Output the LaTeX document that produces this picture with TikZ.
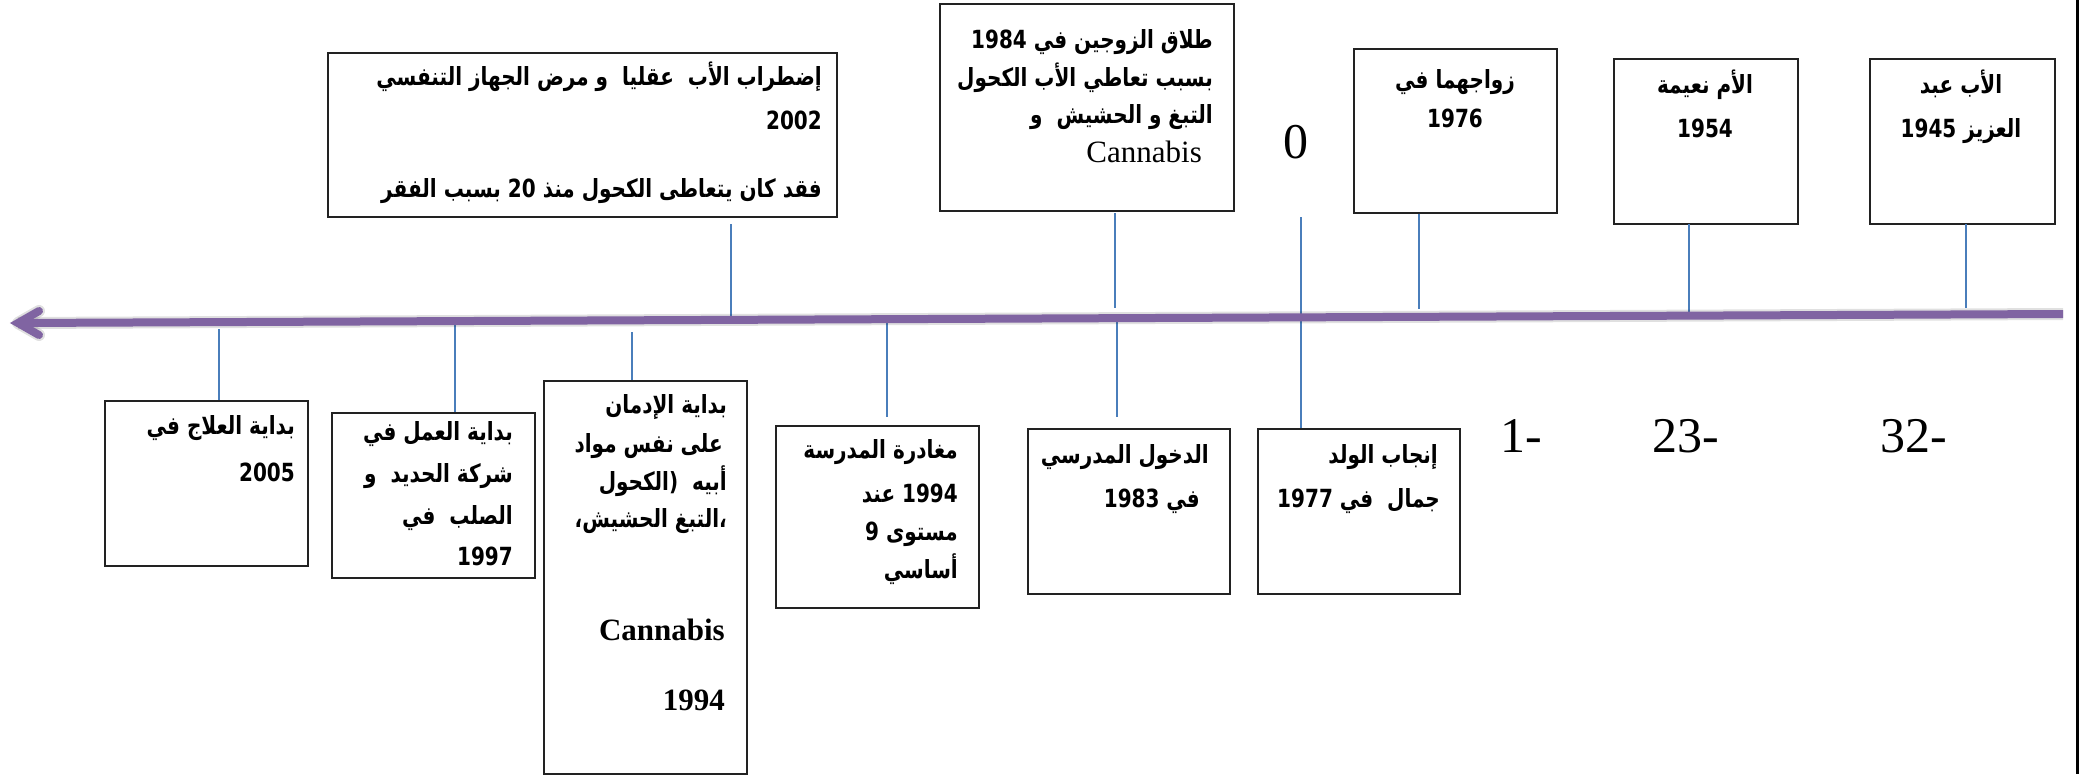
\documentclass[tikz,border=0pt]{standalone}
\usepackage{fontspec}
\setmainfont{Liberation Serif}
\newfontfamily\ar[Script=Arabic, FakeStretch=0.8]{DejaVu Sans}
\TeXXeTstate=1
\definecolor{axis}{HTML}{8064A2}
\definecolor{tickblue}{HTML}{4A7EBB}
\definecolor{frame}{HTML}{222222}

\tikzset{
  box/.style={draw=frame, line width=1.6pt, anchor=north west, inner sep=0pt},
  tick/.style={draw=tickblue, line width=1.8pt},
  ar/.style={font=\ar\bfseries\fontsize{25}{30}\selectfont, inner sep=0pt, anchor=base east},
  arc/.style={ar, anchor=base},
  lat/.style={font=\fontsize{31}{36}\selectfont, inner sep=0pt, anchor=base east},
  latb/.style={lat, font=\bfseries\fontsize{31}{36}\selectfont},
  big/.style={font=\fontsize{50}{60}\selectfont, inner sep=0pt},
  axisline/.style={draw=axis, line width=8pt},
  axisshadow/.style={draw=black, opacity=0.12},
}

\begin{document}
\begin{tikzpicture}[x=1pt, y=-1pt]
  % page
  \fill[white] (0,0) rectangle (2091,774);
  \useasboundingbox (0,0) rectangle (2091,774);

  % slide edge on the right
  \coordinate (edgeTop) at (2077,0);
  \coordinate (edgeBot) at (2077,774);
  \draw[line width=3pt] (edgeTop) -- (edgeBot);

  % ---------- boxes above the axis ----------
  \node[box, minimum width=509pt, minimum height=164pt] (b1) at (327,52) {};
  \node[box, minimum width=294pt, minimum height=207pt] (b2) at (939,3) {};
  \node[box, minimum width=203pt, minimum height=164pt] (b3) at (1353,48) {};
  \node[box, minimum width=184pt, minimum height=165pt] (b4) at (1613,58) {};
  \node[box, minimum width=185pt, minimum height=165pt] (b5) at (1869,58) {};

  % ---------- boxes below the axis ----------
  \node[box, minimum width=203pt, minimum height=165pt] (b6) at (104,400) {};
  \node[box, minimum width=203pt, minimum height=165pt] (b7) at (331,412) {};
  \node[box, minimum width=203pt, minimum height=393pt] (b8) at (543,380) {};
  \node[box, minimum width=203pt, minimum height=182pt] (b9) at (775,425) {};
  \node[box, minimum width=202pt, minimum height=165pt] (b10) at (1027,428) {};
  \node[box, minimum width=202pt, minimum height=165pt] (b11) at (1257,428) {};

  % ---------- ticks ----------
  \coordinate (t1a) at (731,224);  \coordinate (t1b) at (731,318);
  \coordinate (t2a) at (1115,213); \coordinate (t2b) at (1115,308);
  \coordinate (t0a) at (1301,217);
  \coordinate (t3b) at (1419,309);
  \coordinate (t4a) at (1689,224); \coordinate (t4b) at (1689,315);
  \coordinate (t5a) at (1966,224); \coordinate (t5b) at (1966,308);
  \coordinate (t6a) at (219,329);
  \coordinate (t7a) at (455,323);
  \coordinate (t8a) at (632,332);
  \coordinate (t9a) at (887,315);  \coordinate (t9b) at (887,417);
  \coordinate (t10a) at (1117,321); \coordinate (t10b) at (1117,417);

  \draw[tick] (t1a) -- (t1b);
  \draw[tick] (t2a) -- (t2b);
  \draw[tick] (t0a) -- (t0a |- b11.north);
  \draw[tick] (t3b |- b3.south) -- (t3b);
  \draw[tick] (t4a) -- (t4b);
  \draw[tick] (t5a) -- (t5b);
  \draw[tick] (t6a) -- (t6a |- b6.north);
  \draw[tick] (t7a) -- (t7a |- b7.north);
  \draw[tick] (t8a) -- (t8a |- b8.north);
  \draw[tick] (t9a) -- (t9b);
  \draw[tick] (t10a) -- (t10b);

  % ---------- time axis (arrow pointing left) ----------
  \coordinate (tail) at (2063,314);
  \coordinate (head) at (18,323);
  \coordinate (barbU) at (39,311);
  \coordinate (barbD) at (39,335);
  \begin{scope}[shift={(2,5)}]
    \draw[axisshadow, line width=12pt] (tail) -- (head);
    \draw[axisshadow, line width=12pt, line cap=round, line join=round] (barbU) -- (head) -- (barbD);
    \draw[axisshadow, line width=7pt] (tail) -- (head);
  \end{scope}
  \draw[axisline] (tail) -- (head);
  \draw[axisline, line cap=round, line join=miter] (barbU) -- (head) -- (barbD);

  % ---------- texts above ----------
  \node[ar] (b1l1) at (822,85) {\beginR إضطراب الأب\ \ عقليا\ \ و مرض الجهاز التنفسي\endR};
  \node[ar] (b1l2) at (822,129) {2002};
  \node[ar] (b1l3) at (822,197) {\beginR فقد كان يتعاطى الكحول منذ 20 بسبب الفقر\endR};

  \node[ar] (b2l1) at (1213,48) {\beginR طلاق الزوجين في 1984\endR};
  \node[ar] (b2l2) at (1213,86) {\beginR بسبب تعاطي الأب الكحول\endR};
  \node[ar] (b2l3) at (1213,123) {\beginR التبغ و الحشيش\ \ و\endR};
  \node[lat] (b2l4) at (1202,162) {Cannabis};

  \node[big, anchor=base] (zero) at (1296,158) {0};

  \node[arc] (b3l1) at (1455,88) {\beginR زواجهما في\endR};
  \node[arc] (b3l2) at (1455,127) {1976};

  \node[arc] (b4l1) at (1705,93) {\beginR الأم نعيمة\endR};
  \node[arc] (b4l2) at (1705,137) {1954};

  \node[arc] (b5l1) at (1961,93) {\beginR الأب عبد\endR};
  \node[arc] (b5l2) at (1961,137) {\beginR العزيز 1945\endR};

  % ---------- texts below ----------
  \node[ar] (b6l1) at (295,434) {\beginR بداية العلاج في\endR};
  \node[ar] (b6l2) at (295,481) {2005};

  \node[ar] (b7l1) at (513,440) {\beginR بداية العمل في\endR};
  \node[ar] (b7l2) at (513,482) {\beginR شركة الحديد\ \ و\endR};
  \node[ar] (b7l3) at (513,524) {\beginR الصلب\ \ في\endR};
  \node[ar] (b7l4) at (513,565) {1997};

  \node[ar] (b8l1) at (727,413) {\beginR بداية الإدمان\endR};
  \node[ar] (b8l2) at (723,452) {\beginR على نفس مواد\endR};
  \node[ar] (b8l3) at (727,490) {\beginR أبيه\ \ (الكحول\endR};
  \node[ar] (b8l4) at (727,527) {\beginR ،التبغ الحشيش،\endR};
  \node[latb] (b8l5) at (725,640) {Cannabis};
  \node[latb] (b8l6) at (725,710) {1994};

  \node[ar] (b9l1) at (958,458) {\beginR مغادرة المدرسة\endR};
  \node[ar] (b9l2) at (958,502) {\beginR 1994 عند\endR};
  \node[ar] (b9l3) at (958,540) {\beginR مستوى 9\endR};
  \node[ar] (b9l4) at (958,578) {\beginR أساسي\endR};

  \node[ar] (b10l1) at (1209,463) {\beginR الدخول المدرسي\endR};
  \node[ar] (b10l2) at (1200,507) {\beginR في 1983\endR};

  \node[ar] (b11l1) at (1438,463) {\beginR إنجاب الولد\endR};
  \node[ar] (b11l2) at (1440,507) {\beginR جمال\ \ في 1977\endR};

  % ---------- ages ----------
  \node[big, anchor=base west] (age1) at (1500,452) {1-};
  \node[big, anchor=base west] (age23) at (1652,452) {23-};
  \node[big, anchor=base west] (age32) at (1880,452) {32-};
\end{tikzpicture}
\end{document}
